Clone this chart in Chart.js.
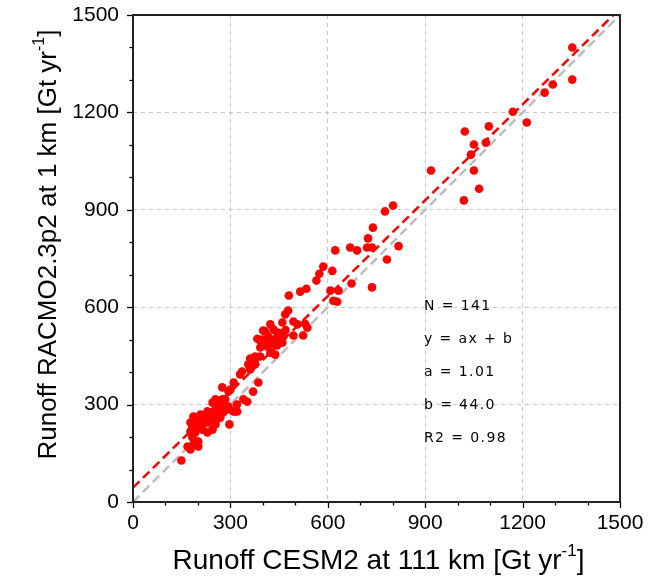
<!DOCTYPE html>
<html lang="en">
<head>
    <meta charset="UTF-8">
    <title>Runoff CESM2 vs RACMO2.3p2</title>
    <script src="https://cdn.jsdelivr.net/npm/chart.js"></script>
    <style>
        html, body { margin: 0; padding: 0; background: #ffffff; }
        .chart-box { width: 661px; height: 581px; position: relative; }
    </style>
</head>
<body>
<div class="chart-box"><canvas id="runoffChart"></canvas></div>
<script>
    // runoff CESM2 (x) and RACMO2.3p2 (y), Gt/yr
    const cesmRunoff = [
        1353, 1353, 1293, 1268, 1213, 1170, 1096, 1022, 1087, 1050,
        1041, 918, 1050, 1066, 1019, 818, 801, 776, 739,
        724, 721, 736, 669, 690, 782, 623, 586, 574, 614,
        565, 534, 515, 608, 633, 673, 736, 617, 629, 480,
        494, 530, 537, 494, 524, 478, 469, 460, 423, 407,
        433, 444, 463, 383, 392, 423, 433, 453, 429, 444,
        460, 413, 392, 438, 376, 361, 370, 361, 386, 506,
        401, 417, 398, 423, 376, 376, 392, 355, 336, 330,
        310, 300, 275, 294, 370, 352, 254, 245, 284, 291,
        315, 275, 288, 340, 297, 321, 309, 294, 361, 254,
        254, 186, 208, 229, 248, 260, 238, 217, 198, 177,
        214, 233, 254, 269, 278, 183, 214, 229, 245, 192,
        183, 186, 201, 177, 201, 149, 177, 183, 168, 177,
        450, 415, 405, 470, 440, 265, 225, 245, 205, 270,
        320
    ];
    const racmoRunoff = [
        1400, 1301, 1286, 1261, 1169, 1202, 1157, 1141, 1107, 1101,
        1070, 1021, 1021, 965, 929, 788, 913, 895, 845,
        812, 784, 784, 784, 775, 747, 775, 725, 703, 712,
        682, 657, 648, 651, 651, 673, 661, 620, 617, 636,
        556, 549, 537, 513, 513, 590, 578, 553, 547, 525,
        531, 522, 510, 503, 497, 494, 500, 506, 485, 482,
        491, 479, 476, 454, 448, 442, 430, 408, 368, 547,
        528, 510, 500, 460, 439, 424, 448, 424, 402, 393,
        368, 346, 353, 340, 340, 309, 316, 306, 316, 285,
        279, 316, 291, 316, 239, 279, 279, 294, 417, 279,
        239, 263, 269, 279, 279, 263, 260, 260, 248, 245,
        239, 245, 248, 260, 276, 230, 223, 214, 223, 214,
        199, 177, 186, 168, 171, 128, 217, 208, 171, 162,
        520, 500, 490, 530, 495, 290, 250, 265, 235, 300,
        300
    ];

    const fitLineX = [0, 1480];
    const fitLineY = [44, 1500];
    const oneToOneX = [0, 1500];
    const oneToOneY = [0, 1500];

    const axisMin = 0;
    const axisMax = 1500;
    const majorStep = 300;
    const minorStep = 100;
    const statLines = ['N = 141', 'y = ax + b', 'a = 1.01', 'b = 44.0', 'R2 = 0.98'];
    const xTitle = 'Runoff CESM2 at 111 km [Gt yr';
    const yTitle = 'Runoff RACMO2.3p2 at 1 km [Gt yr';
    const titleSup = '-1';

    const scatterData = cesmRunoff.map(function(v, i) { return { x: v, y: racmoRunoff[i] }; });
    const fitLine = fitLineX.map(function(v, i) { return { x: v, y: fitLineY[i] }; });
    const oneToOne = oneToOneX.map(function(v, i) { return { x: v, y: oneToOneY[i] }; });

    // draws a title with a small superscript after it
    function titleWithSup(ctx, text, sup, cx, cy, size) {
        const mainFont = size + 'px "Liberation Sans", Arial, sans-serif';
        const supFont = Math.round(size * 0.6) + 'px "Liberation Sans", Arial, sans-serif';
        ctx.font = mainFont;
        const w1 = ctx.measureText(text).width;
        const w2 = ctx.measureText(']').width;
        ctx.font = supFont;
        const ws = ctx.measureText(sup).width;
        const x0 = cx - (w1 + ws + w2) / 2;
        ctx.textBaseline = 'alphabetic';
        ctx.textAlign = 'left';
        ctx.font = mainFont;
        ctx.fillText(text, x0, cy);
        ctx.font = supFont;
        ctx.fillText(sup, x0 + w1, cy - size * 0.45);
        ctx.font = mainFont;
        ctx.fillText(']', x0 + w1 + ws, cy);
    }

    const frameAndText = {
        id: 'frameAndText',
        afterDraw: function(chart) {
            const ctx = chart.ctx;
            const area = chart.chartArea;
            const xs = chart.scales.x;
            const ys = chart.scales.y;
            ctx.save();
            ctx.strokeStyle = '#000000';
            ctx.lineWidth = 1.3;
            for (let v = axisMin; v <= axisMax; v += minorStep) {
                const len = (v % majorStep === 0) ? 6 : 3.5;
                const px = Math.round(xs.getPixelForValue(v)) + 0.5;
                ctx.beginPath();
                ctx.moveTo(px, area.bottom);
                ctx.lineTo(px, area.bottom + len);
                ctx.stroke();
                const py = Math.round(ys.getPixelForValue(v)) + 0.5;
                ctx.beginPath();
                ctx.moveTo(area.left, py);
                ctx.lineTo(area.left - len, py);
                ctx.stroke();
            }
            ctx.strokeStyle = '#222222';
            ctx.lineWidth = 2;
            ctx.strokeRect(area.left, area.top, area.right - area.left, area.bottom - area.top);

            ctx.fillStyle = '#000000';
            ctx.font = '14px "DejaVu Sans", sans-serif';
            ctx.textAlign = 'left';
            ctx.textBaseline = 'middle';
            for (let i = 0; i < statLines.length; i++) {
                const label = statLines[i].split('').join('\u200A');
                ctx.fillText(label, area.left + 291, area.top + 291 + i * 33);
            }

            titleWithSup(ctx, xTitle, titleSup, (area.left + area.right) / 2 + 2, 569, 28);
            ctx.translate(56, (area.top + area.bottom) / 2 - 14);
            ctx.rotate(-Math.PI / 2);
            titleWithSup(ctx, yTitle, titleSup, 0, 0, 26);
            ctx.restore();
        }
    };

    const ctx = document.getElementById('runoffChart').getContext('2d');
    const runoffChart = new Chart(ctx, {
        type: 'scatter',
        data: {
            datasets: [{
                label: '1:1',
                type: 'line',
                data: oneToOne,
                borderColor: '#bdbdbd',
                borderWidth: 2.5,
                borderDash: [9, 5],
                pointRadius: 0,
                fill: false,
                order: 3
            }, {
                label: 'fit',
                type: 'line',
                data: fitLine,
                borderColor: '#ff0000',
                borderWidth: 2.5,
                borderDash: [9, 5],
                pointRadius: 0,
                fill: false,
                order: 2
            }, {
                label: 'runoff',
                data: scatterData,
                backgroundColor: '#ff0000',
                borderColor: '#ff0000',
                pointRadius: 4.3,
                pointBorderWidth: 0,
                order: 1
            }]
        },
        options: {
            responsive: true,
            maintainAspectRatio: false,
            animation: false,
            events: [],
            layout: { padding: { left: 0, top: 15, right: 41, bottom: 0 } },
            plugins: {
                legend: { display: false },
                tooltip: { enabled: false }
            },
            scales: {
                x: {
                    type: 'linear',
                    min: axisMin,
                    max: axisMax,
                    afterFit: function(scale) {
                        scale.height = 79;
                        scale.paddingLeft = 0;
                        scale.paddingRight = 0;
                    },
                    ticks: {
                        stepSize: majorStep,
                        padding: 9,
                        color: '#000000',
                        font: { size: 21, family: '"Liberation Sans", Arial, sans-serif' },
                        callback: function(value) { return String(value); }
                    },
                    grid: { color: '#c8c8c8', lineWidth: 1, drawTicks: false },
                    border: { display: false, dash: [4, 4] }
                },
                y: {
                    type: 'linear',
                    min: axisMin,
                    max: axisMax,
                    afterFit: function(scale) {
                        scale.width = 133;
                        scale.paddingTop = 0;
                        scale.paddingBottom = 0;
                    },
                    ticks: {
                        stepSize: majorStep,
                        padding: 14,
                        color: '#000000',
                        font: { size: 21, family: '"Liberation Sans", Arial, sans-serif' },
                        callback: function(value) { return String(value); }
                    },
                    grid: { color: '#c8c8c8', lineWidth: 1, drawTicks: false },
                    border: { display: false, dash: [4, 4] }
                }
            }
        },
        plugins: [frameAndText]
    });
</script>
</body>
</html>
